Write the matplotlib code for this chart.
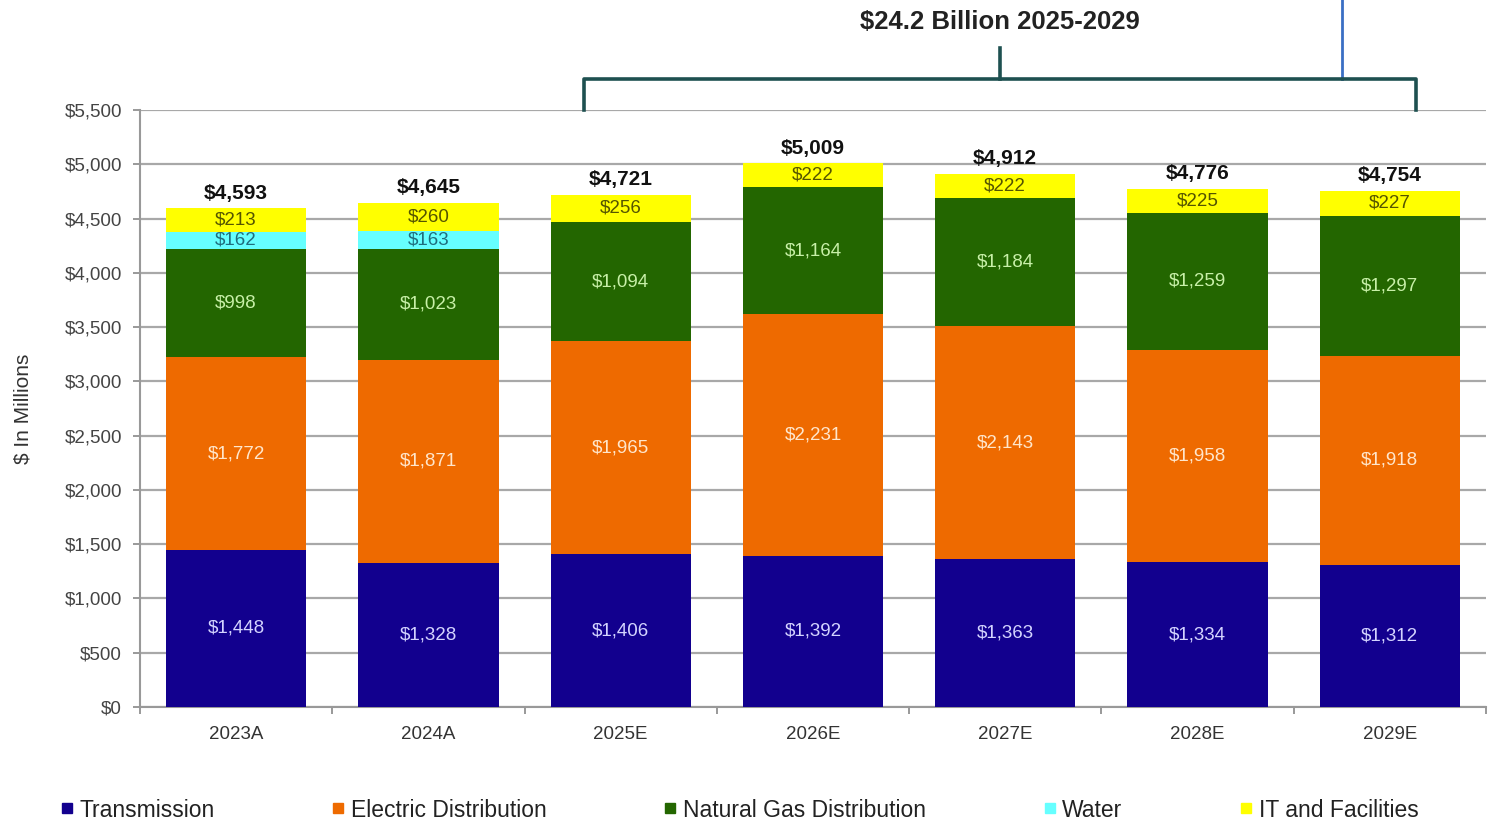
import matplotlib.pyplot as plt
import numpy as np
from matplotlib.lines import Line2D
from matplotlib.ticker import FuncFormatter, MultipleLocator

plt.rcParams['font.family'] = ['Liberation Sans', 'DejaVu Sans']

# capital plan by segment, $ millions
years = ['2023A', '2024A', '2025E', '2026E', '2027E', '2028E', '2029E']
transmission = [1448, 1328, 1406, 1392, 1363, 1334, 1312]
electric_dist = [1772, 1871, 1965, 2231, 2143, 1958, 1918]
gas_dist = [998, 1023, 1094, 1164, 1184, 1259, 1297]
water = [162, 163, 0, 0, 0, 0, 0]
it_facilities = [213, 260, 256, 222, 222, 225, 227]

series = [
    ('Transmission', transmission, '#12008E', '#D4D4FF'),
    ('Electric Distribution', electric_dist, '#EE6A00', '#FFE6CC'),
    ('Natural Gas Distribution', gas_dist, '#236600', '#C8F0A8'),
    ('Water', water, '#66FFFF', '#1F6E7E'),
    ('IT and Facilities', it_facilities, '#FFFF00', '#555500'),
]

fig = plt.figure(figsize=(14.94, 8.24), dpi=100)
ax = fig.add_axes([0.0937, 0.142, 0.9009, 0.7245])

x = np.arange(len(years))
bottom = np.zeros(len(years))
width = 0.73
for name, vals, color, tcolor in series:
    vals = np.array(vals, dtype=float)
    ax.bar(x, vals, width, bottom=bottom, color=color, zorder=3)
    for xi, b, v in zip(x, bottom, vals):
        if v > 0:
            ax.text(xi, b + v / 2, f'${v:,.0f}', ha='center', va='center',
                    fontsize=13.5, color=tcolor, zorder=4)
    bottom += vals

totals = bottom
for xi, t in zip(x, totals):
    ax.annotate(f'${t:,.0f}', (xi, t), xytext=(0, 4), textcoords='offset points',
                ha='center', va='bottom', fontsize=15, fontweight='bold',
                color='#111111')

ax.set_xlim(-0.5, len(years) - 0.5)
ax.set_ylim(0, 5500)
ax.yaxis.set_major_locator(MultipleLocator(500))
ax.yaxis.set_major_formatter(FuncFormatter(lambda v, p: f'${v:,.0f}'))
ax.set_xticks(x)
ax.set_xticklabels(years)
ax.set_xticks(np.arange(-0.5, len(years), 1.0), minor=True)
ax.tick_params(axis='x', which='major', length=0, pad=14, labelsize=13.5,
               labelcolor='#333333')
ax.tick_params(axis='x', which='minor', length=5, color='#888888', width=1.2)
ax.tick_params(axis='y', length=5, color='#888888', width=1.2, labelsize=13.5,
               labelcolor='#444444', pad=8)

ax.grid(axis='y', color='#A8A8A8', linewidth=1.6, zorder=0)
for side in ['top', 'right']:
    ax.spines[side].set_visible(False)
for side in ['left', 'bottom']:
    ax.spines[side].set_color('#999999')
    ax.spines[side].set_linewidth(1.5)

ax.set_ylabel('$ In Millions', fontsize=15, color='#333333', labelpad=23)

# bracket over the five-year plan
bl, br = 1.81, 6.135
by_low, by_top, by_tick = 5500, 5786, 6071
bkw = dict(color='#1E5050', linewidth=2.6, clip_on=False, zorder=5)
ax.plot([bl, bl, br, br], [by_low, by_top, by_top, by_low], **bkw)
mid = (bl + br) / 2
ax.plot([mid, mid], [by_top, by_tick], **bkw)
ax.text(mid, 6310, '$24.2 Billion 2025-2029', ha='center', va='center',
        fontsize=18.5, fontweight='bold', color='#222222')
ax.plot([5.75, 5.75], [by_top, 6600], color='#3A6FC4', linewidth=2,
        clip_on=False, zorder=4)

handles = [Line2D([], [], marker='s', linestyle='none', markersize=7,
                  markerfacecolor=c, markeredgecolor=c)
           for _, _, c, _ in series]
fig.legend(handles, [s[0] for s in series], loc='lower left',
           bbox_to_anchor=(0.027, -0.022), ncol=5, frameon=False, fontsize=16.5,
           handlelength=0.5, handletextpad=0.3, columnspacing=5.15,
           labelcolor='#222222')

fig.savefig('out.png', dpi=100)
